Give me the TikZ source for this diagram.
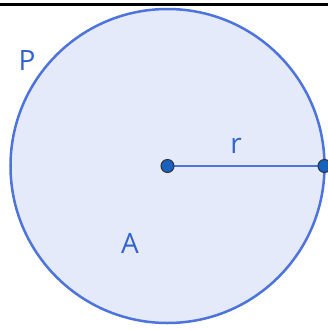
\documentclass[tikz,border=0pt]{standalone}
\usepackage{fontspec}
\setsansfont{Open Sans}
\usepackage{tikz}
\usetikzlibrary{positioning,calc}
\usepackage{xcolor}
\definecolor{ringblue}{RGB}{77,115,222}
\definecolor{diskfill}{RGB}{228,234,249}
\definecolor{labelblue}{RGB}{50,100,205}
\definecolor{dotblue}{RGB}{22,98,190}

\begin{document}
\begin{tikzpicture}[x=1pt, y=-1pt,
  every node/.style={font=\sffamily\fontsize{28}{28}\selectfont, text=labelblue, inner sep=0pt},
  dot/.style={circle, fill=dotblue, draw=black!80, line width=1pt, minimum size=13pt}]
  \useasboundingbox (0,0) rectangle (328,330);
  \clip (0,0) rectangle (328,330);
  % frame line on top
  \draw[line width=2.6pt] (0,4.5) -- (328,4.5);
  % disk
  \filldraw[fill=diskfill, draw=ringblue, line width=2.5pt] (167.5,166) circle (157);
  % radius
  \coordinate (O) at (167.5,166);
  \coordinate (B) at (324.5,166);
  \draw[ringblue, line width=2.5pt] (O) -- (B);
  \node[dot] (Odot) at (O) {};
  \node[dot] (Bdot) at (B) {};
  % labels
  \node (P) at (27,61) {P};
  \node (r) at (236,146) {r};
  \node (A) at (130,243) {A};
\end{tikzpicture}
\end{document}
